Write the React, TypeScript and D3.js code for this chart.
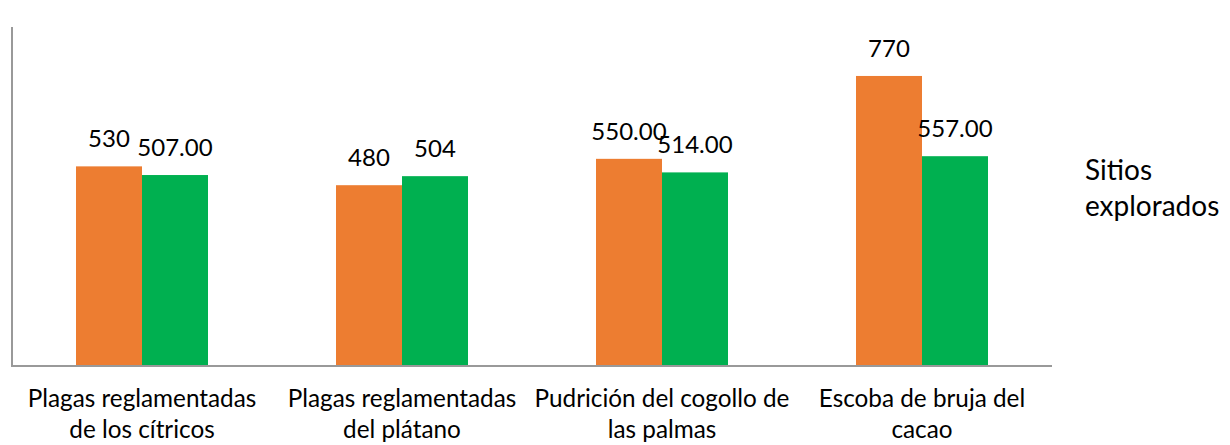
import React from "react";
import * as d3 from "d3";

const categories = [
  ["Plagas reglamentadas", "de los cítricos"],
  ["Plagas reglamentadas", "del plátano"],
  ["Pudrición del cogollo de", "las palmas"],
  ["Escoba de bruja del", "cacao"],
];
const seriesA = [530, 480, 550, 770];
const seriesB = [507, 504, 514, 557];
const labelsA = ["530", "480", "550.00", "770"];
const labelsB = ["507.00", "504", "514.00", "557.00"];
const sideLabel = ["Sitios", "explorados"];

const width = 1230;
const height = 445;
const margin = { top: 27, left: 12, bottom: 79 };
const plotRight = 1052;
const font = "Lato, Carlito, Calibri, sans-serif";

export default function App() {
  const baseY = height - margin.bottom;

  const x = d3
    .scaleBand<number>()
    .domain(d3.range(categories.length))
    .range([margin.left, plotRight])
    .paddingInner(0)
    .paddingOuter(0);

  const y = d3.scaleLinear().domain([0, 900]).range([baseY, margin.top]);

  const barW = 66;

  const bars: React.ReactNode[] = [];
  categories.forEach((c, i) => {
    const cx = (x(i) as number) + x.bandwidth() / 2;
    const groups = [
      { v: seriesA[i], l: labelsA[i], x0: cx - barW, color: "#ED7D31" },
      { v: seriesB[i], l: labelsB[i], x0: cx, color: "#00B050" },
    ];
    groups.forEach((g, j) => {
      bars.push(
        <rect
          key={`r${i}-${j}`}
          x={g.x0}
          y={y(g.v)}
          width={barW}
          height={baseY - y(g.v)}
          fill={g.color}
        />
      );
      bars.push(
        <text
          key={`t${i}-${j}`}
          x={g.x0 + barW / 2}
          y={y(g.v) - 19}
          textAnchor="middle"
          fontSize={24}
          fill="#000"
        >
          {g.l}
        </text>
      );
    });
  });

  return (
    <svg
      width={width}
      height={height}
      style={{ position: "absolute", left: 0, top: 0, fontFamily: font }}
    >
      <rect width={width} height={height} fill="#fff" />
      {bars}
      <line x1={margin.left} x2={margin.left} y1={margin.top} y2={baseY} stroke="#999" strokeWidth={2} />
      <line x1={margin.left - 1} x2={plotRight} y1={baseY} y2={baseY} stroke="#999" strokeWidth={2} />
      {categories.map((c, i) => {
        const cx = (x(i) as number) + x.bandwidth() / 2;
        return (
          <text key={`c${i}`} textAnchor="middle" fontSize={24.3} fill="#000">
            <tspan x={cx} y={407}>{c[0]}</tspan>
            <tspan x={cx} y={438}>{c[1]}</tspan>
          </text>
        );
      })}
      <text fontSize={28} fill="#000">
        <tspan x={1085} y={180}>{sideLabel[0]}</tspan>
        <tspan x={1085} y={216}>{sideLabel[1]}</tspan>
      </text>
    </svg>
  );
}
